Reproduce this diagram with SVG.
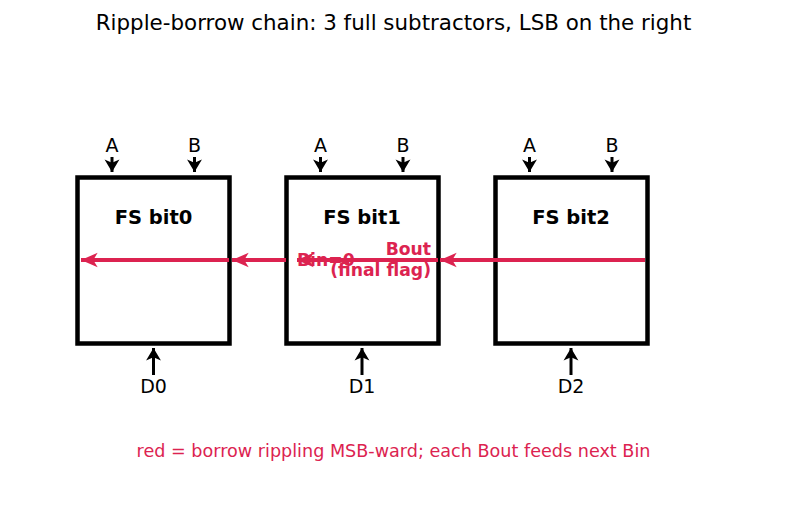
<svg xmlns="http://www.w3.org/2000/svg" width="787" height="508" viewBox="0 0 787 508">
<style>
.box{fill:#fff;stroke:#000;stroke-width:4.5}
.lbl{font-family:"DejaVu Sans",sans-serif;font-size:19px;fill:#000;text-anchor:middle}
.ttl{font-family:"DejaVu Sans",sans-serif;font-size:19.5px;font-weight:bold;fill:#000;text-anchor:middle}
.red{stroke:#dc2350;stroke-width:4;fill:none}
.blk{stroke:#000;stroke-width:3;fill:none}
.rt{font-family:"DejaVu Sans",sans-serif;font-size:17.2px;font-weight:bold;fill:#dc2350}
</style>
<defs>
<marker id="rh" markerUnits="userSpaceOnUse" markerWidth="20" markerHeight="20" viewBox="-16 -8 18 16" refX="0" refY="0" orient="auto">
<path d="M0,0 L-15,-6.5 L-11,0 L-15,6.5 Z" fill="#dc2350"/>
</marker>
<marker id="bh" markerUnits="userSpaceOnUse" markerWidth="16" markerHeight="16" viewBox="-12 -7 14 14" refX="0" refY="0" orient="auto">
<path d="M0,0 L-11,-6.5 L-8,0 L-11,6.5 Z" fill="#000"/>
</marker>
</defs>
<rect width="787" height="508" fill="#fff"/>
<text x="393.5" y="30" font-family="DejaVu Sans,sans-serif" font-size="21.4" text-anchor="middle">Ripple-borrow chain: 3 full subtractors, LSB on the right</text>
<g id="fs0">
<rect class="box" x="77.5" y="177.5" width="152" height="166"/>
<text class="ttl" x="153.5" y="224">FS bit0</text>
<text class="lbl" x="112" y="152">A</text>
<text class="lbl" x="194.5" y="152">B</text>
<text class="lbl" x="153.5" y="393">D0</text>
</g>
<g id="fs1">
<rect class="box" x="286.5" y="177.5" width="152" height="166"/>
<text class="ttl" x="362" y="224">FS bit1</text>
<text class="lbl" x="320.5" y="152">A</text>
<text class="lbl" x="403" y="152">B</text>
<text class="lbl" x="362" y="393">D1</text>
</g>
<g id="fs2">
<rect class="box" x="495.5" y="177.5" width="152" height="166"/>
<text class="ttl" x="571" y="224">FS bit2</text>
<text class="lbl" x="529.5" y="152">A</text>
<text class="lbl" x="612" y="152">B</text>
<text class="lbl" x="571" y="393">D2</text>
</g>
<g id="connectors">
<line class="blk" x1="112" y1="157" x2="112" y2="172" marker-end="url(#bh)"/>
<line class="blk" x1="194.5" y1="157" x2="194.5" y2="172" marker-end="url(#bh)"/>
<line class="blk" x1="320.5" y1="157" x2="320.5" y2="172" marker-end="url(#bh)"/>
<line class="blk" x1="403" y1="157" x2="403" y2="172" marker-end="url(#bh)"/>
<line class="blk" x1="529.5" y1="157" x2="529.5" y2="172" marker-end="url(#bh)"/>
<line class="blk" x1="612" y1="157" x2="612" y2="172" marker-end="url(#bh)"/>
<line class="blk" x1="153.5" y1="375" x2="153.5" y2="348" marker-end="url(#bh)"/>
<line class="blk" x1="362" y1="375" x2="362" y2="348" marker-end="url(#bh)"/>
<line class="blk" x1="571" y1="375" x2="571" y2="348" marker-end="url(#bh)"/>
<line class="red" x1="645" y1="260" x2="440" y2="260" marker-end="url(#rh)"/>
<line class="red" x1="438" y1="260" x2="297" y2="260" marker-end="url(#rh)"/>
<line class="red" x1="286" y1="260" x2="232" y2="260" marker-end="url(#rh)"/>
<line class="red" x1="229" y1="260" x2="81" y2="260" marker-end="url(#rh)"/>
</g>
<text class="rt" x="431" y="255" text-anchor="end">Bout</text>
<text class="rt" x="431" y="276" text-anchor="end">(final flag)</text>
<text class="rt" x="297" y="266">Bin=0</text>
<text x="393.5" y="457" font-family="DejaVu Sans,sans-serif" font-size="17.6" fill="#dc2350" text-anchor="middle">red = borrow rippling MSB-ward; each Bout feeds next Bin</text>
</svg>
